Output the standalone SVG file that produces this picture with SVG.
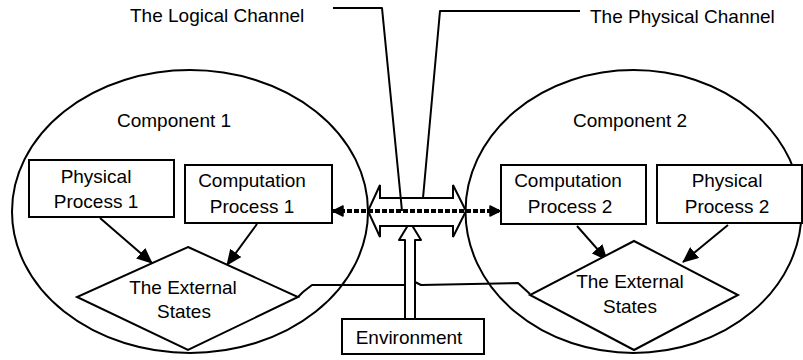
<svg xmlns="http://www.w3.org/2000/svg" width="803" height="360" viewBox="0 0 803 360">
  <style>
    .ln { fill: none; stroke: #000; stroke-width: 2; stroke-linejoin: round; }
    .box { fill: #fff; stroke: #000; stroke-width: 2; }
    .txt { font-family: "Liberation Sans", Arial, sans-serif; font-size: 19px; fill: #000; }
    .mid { text-anchor: middle; }
    .arrow { fill: none; stroke: #000; stroke-width: 2; marker-end: url(#head); }
  </style>
  <defs>
    <marker id="head" viewBox="0 0 16 14" refX="15" refY="7" markerWidth="16" markerHeight="14" markerUnits="userSpaceOnUse" orient="auto">
      <path d="M0,0 L16,7 L0,14 z" fill="#000"/>
    </marker>
    <marker id="dot" viewBox="0 0 12 12" refX="11" refY="6" markerWidth="12" markerHeight="12" markerUnits="userSpaceOnUse" orient="auto">
      <path d="M1,1 L11,6 L1,11 z" fill="#000" stroke="#000" stroke-width="1.5" stroke-linejoin="round"/>
    </marker>
    <marker id="dotStart" viewBox="0 0 12 12" refX="1" refY="6" markerWidth="12" markerHeight="12" markerUnits="userSpaceOnUse" orient="auto">
      <path d="M11,1 L1,6 L11,11 z" fill="#000" stroke="#000" stroke-width="1.5" stroke-linejoin="round"/>
    </marker>
  </defs>

  <!-- component boundaries -->
  <g id="component1">
    <ellipse cx="190" cy="211.5" rx="178" ry="141.5" class="ln"/>
    <text x="117" y="127" class="txt">Component 1</text>
  </g>
  <g id="component2">
    <ellipse cx="633.5" cy="211.5" rx="168" ry="141.5" class="ln"/>
    <text x="573" y="127" class="txt">Component 2</text>
  </g>

  <g id="connectors">
    <!-- external states joined to the environment -->
    <polyline class="ln" points="298,297 303,292 312,285 405,285"/>
    <polyline class="ln" points="415,282 421,285 518,283 530,294"/>
    <!-- environment feed (hollow arrow) -->
    <polygon points="405,319 405,240 399,240 410,222 421,240 415,240 415,319" fill="#fff" stroke="#000" stroke-width="2" stroke-linejoin="round"/>
    <!-- physical channel: hollow double arrow -->
    <polygon points="368,211 380,185 380,198 453,198 453,185 466,211 453,237 453,226 380,226 380,237" fill="#fff" stroke="#000" stroke-width="2" stroke-linejoin="miter"/>
    <!-- logical channel: thick dashed link -->
    <line x1="333" y1="211" x2="500" y2="211" stroke="#000" stroke-width="4" stroke-dasharray="5 2" marker-start="url(#dotStart)" marker-end="url(#dot)"/>
    <!-- label leaders -->
    <polyline class="ln" points="333,8 382,8 402,211"/>
    <polyline class="ln" points="580,11 440,11 423,198"/>
    <!-- process to state arrows -->
    <line class="arrow" x1="100" y1="218" x2="152" y2="263"/>
    <line class="arrow" x1="257" y1="224" x2="227" y2="265"/>
    <line class="arrow" x1="577" y1="226" x2="607" y2="260"/>
    <line class="arrow" x1="728" y1="225" x2="683" y2="262"/>
  </g>

  <text x="130" y="22" class="txt">The Logical Channel</text>
  <text x="590" y="23" class="txt">The Physical Channel</text>

  <g id="physical1">
    <rect x="29" y="160" width="145" height="57" class="box"/>
    <text x="96" y="183" class="txt mid">Physical</text>
    <text x="96" y="208" class="txt mid">Process 1</text>
  </g>
  <g id="computation1">
    <rect x="185" y="165" width="147" height="58" class="box"/>
    <text x="252" y="187" class="txt mid">Computation</text>
    <text x="252" y="213" class="txt mid">Process 1</text>
  </g>
  <g id="states1">
    <polygon points="188,247 298,297 188,350 77,297" class="box"/>
    <text x="183" y="294" class="txt mid">The External</text>
    <text x="184" y="318" class="txt mid">States</text>
  </g>

  <g id="computation2">
    <rect x="501" y="165" width="145" height="59" class="box"/>
    <text x="568" y="187" class="txt mid">Computation</text>
    <text x="570" y="213" class="txt mid">Process 2</text>
  </g>
  <g id="physical2">
    <rect x="657" y="165" width="145" height="58" class="box"/>
    <text x="727" y="187" class="txt mid">Physical</text>
    <text x="727" y="213" class="txt mid">Process 2</text>
  </g>
  <g id="states2">
    <polygon points="634,241 738,295 634,350 530,295" class="box"/>
    <text x="630" y="288" class="txt mid">The External</text>
    <text x="630" y="313" class="txt mid">States</text>
  </g>

  <g id="environment">
    <rect x="342" y="319" width="142" height="35" class="box"/>
    <text x="409" y="344" class="txt mid">Environment</text>
  </g>
</svg>
